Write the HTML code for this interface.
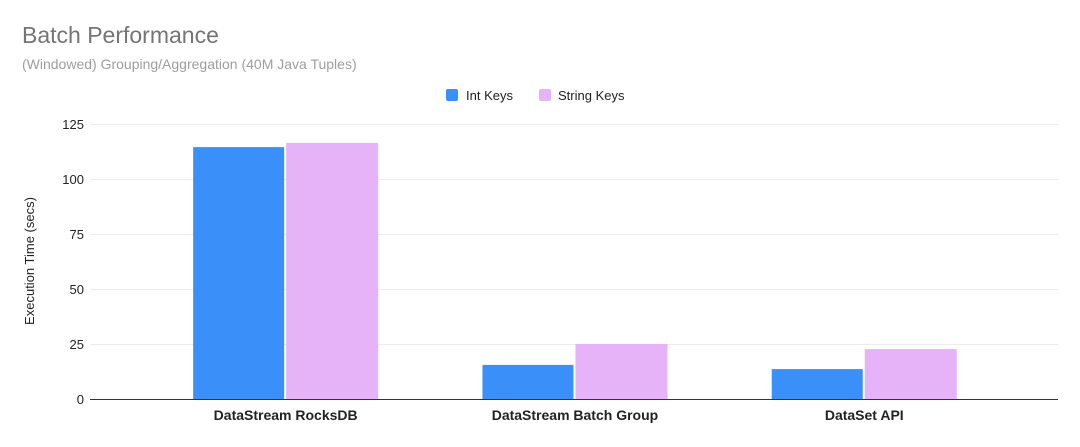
<!DOCTYPE html>
<html><head><meta charset="utf-8"><style>
body{margin:0;background:#fff;font-family:"Liberation Sans",sans-serif;}
</style></head><body>
<svg width="1080" height="442" xmlns="http://www.w3.org/2000/svg">
<rect width="1080" height="442" fill="#fff"/>
<text x="22" y="43" font-size="23" fill="#757575">Batch Performance</text>
<text x="22" y="69" font-size="14" fill="#9e9e9e">(Windowed) Grouping/Aggregation (40M Java Tuples)</text>
<g>
<rect x="446" y="89" width="12" height="12" rx="2" fill="#3b8ff8"/>
<text x="466" y="100" font-size="13" fill="#222">Int Keys</text>
<rect x="539" y="89" width="12" height="12" rx="2" fill="#e6b3f8"/>
<text x="558" y="100" font-size="13" fill="#222">String Keys</text>
</g>
<text transform="translate(34,261) rotate(-90)" text-anchor="middle" font-size="13" fill="#222">Execution Time (secs)</text>
<g id="grid"></g><g id="bars"></g><g id="xlabels"></g>
<line x1="90" y1="399.5" x2="1058" y2="399.5" stroke="#333" stroke-width="1"/>
</svg>
<script>
const categories=["DataStream RocksDB","DataStream Batch Group","DataSet API"];
const intKeys=[114.5,15.5,13.6];
const stringKeys=[116.4,25,22.7];
const yTicks=[0,25,50,75,100,125];
const ns="http://www.w3.org/2000/svg";
const y0=399,yPer=2.2,plotL=141,band=289.3;
function y(v){return y0-v*yPer;}
function mk(t,a,p){const e=document.createElementNS(ns,t);for(const k in a)e.setAttribute(k,a[k]);p.appendChild(e);return e;}
const grid=document.getElementById('grid'),bars=document.getElementById('bars'),xl=document.getElementById('xlabels');
yTicks.forEach(t=>{
 if(t>0){const l=mk('line',{x1:90,x2:1058,y1:y(t)+0.5,y2:y(t)+0.5,stroke:'#ececec'},grid);
 
 }
 const tx=mk('text',{x:84,y:y(t)+5,'text-anchor':'end','font-size':13,fill:'#222'},grid);
 tx.textContent=t;
 
 
});
categories.forEach((c,i)=>{
 const cx=plotL+band*(i+0.5);
 const b1=mk('rect',{x:cx-92.5,y:y(intKeys[i]),width:91,height:intKeys[i]*yPer,fill:'#3b8ff8'},bars);
 
 
 const b2=mk('rect',{x:cx+0.5,y:y(stringKeys[i]),width:92,height:stringKeys[i]*yPer,fill:'#e6b3f8'},bars);
 
 
 const t=mk('text',{x:cx,y:420,'text-anchor':'middle','font-size':14,'font-weight':'bold',fill:'#222'},xl);
 t.textContent=c;
 
 
});
</script>
</body></html>
